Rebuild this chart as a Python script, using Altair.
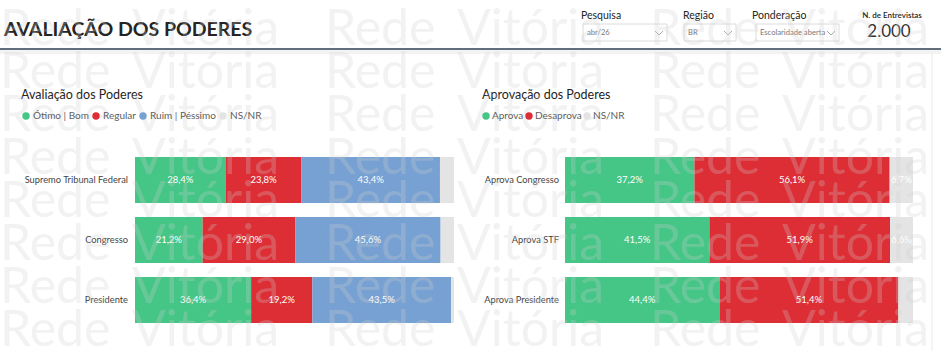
import altair as alt
import pandas as pd

# ---------------- data ----------------
aval_items = ["Supremo Tribunal Federal", "Congresso", "Presidente"]
aval_cats = ["Ótimo | Bom", "Regular", "Ruim | Péssimo", "NS/NR"]
aval_otimo = [28.4, 21.2, 36.4]
aval_regular = [23.8, 29.0, 19.2]
aval_ruim = [43.4, 45.6, 43.5]
aval_nsnr = [4.4, 4.2, 0.9]

aprov_items = ["Aprova Congresso", "Aprova STF", "Aprova Presidente"]
aprov_cats = ["Aprova", "Desaprova", "NS/NR"]
aprov_aprova = [37.2, 41.5, 44.4]
aprov_desaprova = [56.1, 51.9, 51.4]
aprov_nsnr = [6.7, 6.6, 4.2]

filter_labels = ["Pesquisa", "Região", "Ponderação"]
filter_values = ["abr/26", "BR", "Escolaridade aberta"]
n_label = "N. de Entrevistas"
n_value = "2.000"
page_title = "AVALIAÇÃO DOS PODERES"
panel_titles = ["Avaliação dos Poderes", "Aprovação dos Poderes"]
watermark_words = ["Rede", "Vitória"]

GREEN, RED, BLUE, GRAY = "#45C686", "#DD2E35", "#77A1D2", "#E4E4E4"
FONT = "Segoe UI, Lato, sans-serif"
W, H = 941, 351


def long_df(items, cats, series):
    rows = []
    for i, it in enumerate(items):
        for k, (c, s) in enumerate(zip(cats, series)):
            rows.append({"item": it, "cat": c, "v": s[i], "ord": k})
    return pd.DataFrame(rows)


aval_df = long_df(aval_items, aval_cats, [aval_otimo, aval_regular, aval_ruim, aval_nsnr])
aprov_df = long_df(aprov_items, aprov_cats, [aprov_aprova, aprov_desaprova, aprov_nsnr])


def panel(df, items, cats, colors, x_range, label_x, legend_x, col_pad, lab_off):
    xs = alt.Scale(domain=[0, 100], range=x_range, nice=False)
    ys = alt.Scale(domain=items, range=[157, 323], paddingInner=0.2333, paddingOuter=0)
    base = alt.Chart(df).transform_stack(
        stack="v", groupby=["item"], sort=[alt.SortField("ord", order="ascending")], as_=["x0", "x1"]
    ).transform_calculate(
        mid="(datum.x0 + datum.x1) / 2",
        lab="replace(format(datum.v, '.1f'), '.', ',') + '%'",
    )
    bars = base.mark_bar().encode(
        x=alt.X("x0:Q", scale=xs, axis=None),
        x2="x1:Q",
        y=alt.Y("item:N", scale=ys, axis=None),
        color=alt.Color(
            "cat:N",
            scale=alt.Scale(domain=cats, range=colors),
            legend=alt.Legend(
                orient="none", legendX=legend_x, legendY=111, direction="horizontal",
                title=None, symbolType="circle", symbolSize=55, symbolStrokeWidth=0,
                labelFont=FONT, labelFontSize=10, labelColor="#605E5C",
                columnPadding=col_pad, labelOffset=lab_off, padding=0, offset=0,
            ),
        ),
    )
    vals = base.transform_filter("datum.v >= 5").mark_text(
        color="white", font=FONT, fontSize=9.5
    ).encode(
        x=alt.X("mid:Q", scale=xs, axis=None),
        y=alt.Y("item:N", scale=ys, axis=None),
        text="lab:N",
    )
    ylab = alt.Chart(pd.DataFrame({"item": items})).mark_text(
        align="right", baseline="middle", font=FONT, fontSize=9.3, color="#444444"
    ).encode(
        x=alt.value(label_x),
        y=alt.Y("item:N", scale=ys, axis=None),
        text="item:N",
    )
    return alt.layer(bars, vals, ylab)


left = panel(aval_df, aval_items, aval_cats, [GREEN, RED, BLUE, GRAY], [135, 454], 128, 21, 2, 2)
right = panel(aprov_df, aprov_items, aprov_cats, [GREEN, RED, GRAY], [565, 913], 559, 481, 0, 1)

one = pd.DataFrame({"a": [0]})


def txt(s, x, y, size, color="#252423", weight="normal", align="left", font=FONT):
    return alt.Chart(one).mark_text(
        text=s, align=align, baseline="middle", fontSize=size, fontWeight=weight,
        color=color, font=font,
    ).encode(x=alt.value(x), y=alt.value(y))


def box(x1, x2, y1, y2):
    return alt.Chart(one).mark_rect(fill="white", stroke="#DCDCDC", strokeWidth=1).encode(
        x=alt.value(x1), x2=alt.value(x2), y=alt.value(y1), y2=alt.value(y2)
    )


# watermark (decoration)
wm_rows = []
for r in range(8):
    for k in range(3):
        for j, w in enumerate(watermark_words):
            wm_rows.append({"t": w, "px": k * 325 + (0 if j == 0 else 132), "py": 45 + 43 * r})
wm = alt.Chart(pd.DataFrame(wm_rows)).mark_text(
    align="left", baseline="alphabetic", fontSize=50, fontWeight="normal", font="Lato",
    color="#D0D0D0", opacity=0.26,
).encode(
    x=alt.X("px:Q", scale=None), y=alt.Y("py:Q", scale=None), text="t:N"
)

# dropdown chevrons (decoration)
fx = [(581, 583, 667), (683, 684, 736), (752, 756, 839)]
chev = []
for n, (_, b1, b2) in enumerate(fx):
    cx = b2 - 8
    for dx, dy in [(-4, 31), (0, 35), (4, 31)]:
        chev.append({"g": n, "px": cx + dx, "py": dy, "o": dx})
chev_layer = alt.Chart(pd.DataFrame(chev)).mark_line(color="#A0A0A0", strokeWidth=0.9).encode(
    x=alt.X("px:Q", scale=None), y=alt.Y("py:Q", scale=None), detail="g:N", order="o:Q"
)

header = [
    txt(page_title, 4, 30, 19.5, "#252423", "bold"),
    alt.Chart(one).mark_rect(color="#F3F3F3").encode(
        x=alt.value(0), x2=alt.value(W), y=alt.value(50), y2=alt.value(54)
    ),
    alt.Chart(one).mark_rule(color="#2C3E50", strokeWidth=1.6).encode(
        x=alt.value(0), x2=alt.value(W), y=alt.value(49)
    ),
]
for (lx, b1, b2), lab, val in zip(fx, filter_labels, filter_values):
    header += [
        txt(lab, lx, 16, 10.5),
        box(b1, b2, 24, 41),
        txt(val, b1 + 4, 33, 7.6, "#777777"),
    ]
header += [
    chev_layer,
    txt(n_label, 892, 16, 8, "#252423", 600, align="center"),
    txt(n_value, 889, 32, 17, "#333333", align="center"),
    txt(panel_titles[0], 21, 95, 12.5),
    txt(panel_titles[1], 482, 95, 12.5),
    alt.Chart(one).mark_rule(color="#EAEAEA", strokeWidth=1).encode(
        x=alt.value(932), y=alt.value(53), y2=alt.value(H)
    ),
]

chart = alt.layer(*header, left, right, wm).resolve_scale(
    x="independent", y="independent", color="independent"
).properties(
    width=W, height=H, padding=0, autosize=alt.AutoSizeParams(type="none"),
    background="white",
).configure_view(stroke=None)

chart.save("out.html", embed_options={"renderer": "svg", "actions": False})
